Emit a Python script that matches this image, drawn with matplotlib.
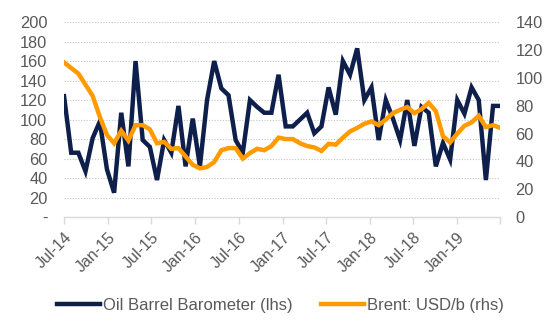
import numpy as np
import pandas as pd
import matplotlib
matplotlib.use('Agg')
import matplotlib.pyplot as plt

plt.rcParams['font.family'] = ['Liberation Sans', 'DejaVu Sans']

# Oil Barrel Barometer (lhs) and Brent USD/b (rhs), Jul-14 .. Jul-19
barometer = [124, 66, 66, 47, 81, 98, 49, 25, 107, 52,
             160, 79, 72, 38, 79, 66, 114, 52, 101, 52,
             120, 160, 132, 125, 79, 66, 120, 113, 107, 107,
             146, 93, 93, 100, 107, 86, 93, 133, 105, 160,
             146, 173, 120, 133, 79, 120, 101, 79, 120, 73,
             113, 107, 52, 76, 59, 120, 106, 133, 120, 38,
             114, 114]
brent = [111, 107, 103, 95, 87, 72, 59, 53, 62, 55,
         66, 66, 63, 53, 54, 49, 49.5, 43.5, 37.5, 35,
         36, 39.5, 48, 49.5, 49.5, 42, 46, 49, 48, 51,
         57, 56, 56, 53, 51, 50, 47.5, 52.6, 52, 57,
         61.5, 64, 67, 68.7, 66, 70, 74.6, 77, 79, 74.6,
         77.5, 82, 76, 58, 53.6, 60, 65.5, 68, 72.7, 64.6,
         66, 64]
dates = pd.date_range('2014-07-01', '2019-07-01', periods=len(barometer))
tick_dates = pd.date_range('2014-07-01', '2019-07-01', freq='6MS')
tick_labels = [d.strftime('%b-%y') for d in tick_dates[:-1]] + ['']

navy = '#0e1f4b'
orange = '#ff9a00'
grey = '#595959'

fig = plt.figure(figsize=(5.57, 3.34), dpi=100, facecolor='white')
ax = fig.add_axes([0.115, 0.35, 0.783, 0.584])
ax2 = ax.twinx()

l1, = ax.plot(dates, barometer, color=navy, linewidth=3.2, solid_joinstyle='miter')
l2, = ax2.plot(dates, brent, color=orange, linewidth=3.2, solid_joinstyle='miter')

ax.set_xlim(dates[0], dates[-1])
ax.set_ylim(0, 200)
ax2.set_ylim(0, 140)
ax.set_yticks(np.arange(0, 201, 20))
ax.set_yticklabels(['-'] + [str(v) for v in range(20, 201, 20)])
ax2.set_yticks(np.arange(0, 141, 20))
ax.set_xticks(tick_dates)
ax.set_xticklabels(tick_labels, rotation=45, ha='right', rotation_mode='anchor')

ax.yaxis.grid(True, color='#c4c4c4', linestyle=(0, (1, 1.5)), linewidth=0.8)
ax.set_axisbelow(True)

for a in (ax, ax2):
    for s in ('top', 'left', 'right'):
        a.spines[s].set_visible(False)
    a.spines['bottom'].set_color('#d9d9d9')
    a.spines['bottom'].set_linewidth(1)
ax2.spines['bottom'].set_visible(False)

ax.tick_params(axis='y', length=0, pad=12, labelsize=11.8, labelcolor=grey)
ax2.tick_params(axis='y', length=0, pad=11, labelsize=11.8, labelcolor=grey)
ax.tick_params(axis='x', length=5, color='#d9d9d9', width=1, pad=4,
               labelsize=11.5, labelcolor=grey)

fig.legend([l1, l2], ['Oil Barrel Barometer (lhs)', 'Brent: USD/b (rhs)'],
           loc='center', bbox_to_anchor=(0.503, 0.085), ncol=2, frameon=False,
           fontsize=12, labelcolor=grey, handlelength=2.6, handletextpad=0.15,
           columnspacing=1.7)

fig.savefig('out.png', dpi=100, facecolor='white')
